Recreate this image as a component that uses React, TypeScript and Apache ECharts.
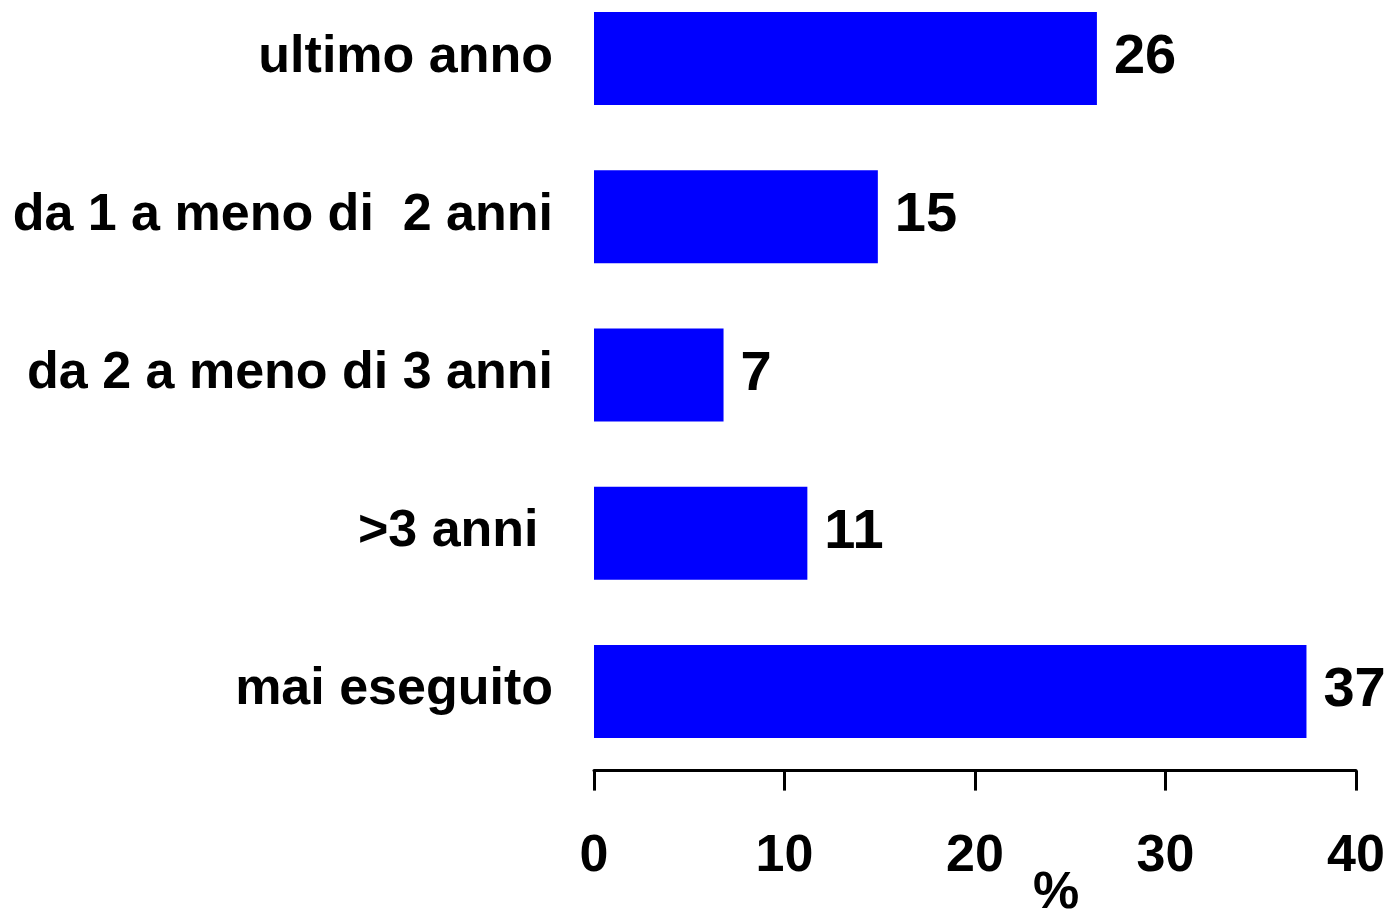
import React, { useEffect, useRef } from "react";
import * as echarts from "echarts";

const categories = [
  "ultimo anno",
  "da 1 a meno di  2 anni",
  "da 2 a meno di 3 anni",
  ">3 anni ",
  "mai eseguito",
];
const values = [26.4, 14.9, 6.8, 11.2, 37.4];
const valueLabels = ["26", "15", "7", "11", "37"];
const axisTicks = [0, 10, 20, 30, 40];
const axisName = "%";

const FONT = "'Liberation Sans', Arial, sans-serif";
const SHIFT = 21;

export default function App() {
  const ref = useRef<HTMLDivElement>(null);
  useEffect(() => {
    if (!ref.current) return;
    const chart = echarts.init(ref.current, null, { renderer: "svg" });
    chart.setOption({
      animation: false,
      grid: { left: 594, right: 34, top: 0.4, bottom: 144.4, containLabel: false },
      xAxis: {
        type: "value",
        min: axisTicks[0],
        max: axisTicks[axisTicks.length - 1],
        interval: 10,
        splitLine: { show: false },
        axisLine: { show: true, lineStyle: { color: "#000", width: 3 } },
        axisTick: { show: true, length: 20, lineStyle: { color: "#000", width: 3 } },
        axisLabel: {
          margin: 56,
          color: "#000",
          fontSize: 52,
          fontWeight: "bold",
          fontFamily: FONT,
        },
      },
      yAxis: {
        type: "category",
        data: categories,
        inverse: true,
        axisLine: { show: false },
        axisTick: { show: false },
        axisLabel: {
          margin: 41,
          color: "#000",
          fontSize: 52,
          fontWeight: "bold",
          fontFamily: FONT,
          formatter: (v: string) => `{a|${v}}`,
          rich: {
            a: {
              color: "#000",
              fontSize: 52,
              fontWeight: "bold",
              fontFamily: FONT,
              padding: [0, 0, 10, 0],
            },
          },
        },
      },
      graphic: [
        {
          type: "text",
          left: 1033,
          top: 864 + SHIFT,
          style: {
            text: axisName,
            fontSize: 52,
            fontWeight: "bold",
            fontFamily: FONT,
            fill: "#000",
          },
        },
      ],
      series: [
        {
          type: "bar",
          data: values,
          barWidth: 93,
          itemStyle: { color: "#0000ff" },
          label: {
            show: true,
            position: "right",
            distance: 17,
            offset: [0, -5],
            color: "#000",
            fontSize: 56,
            fontWeight: "bold",
            fontFamily: FONT,
            formatter: (p: any) => valueLabels[p.dataIndex],
          },
        },
      ],
    });
    return () => chart.dispose();
  }, []);
  return (
    <div
      ref={ref}
      style={{ position: "absolute", left: 0, top: -SHIFT, width: 1390, height: 915 + SHIFT }}
    />
  );
}
